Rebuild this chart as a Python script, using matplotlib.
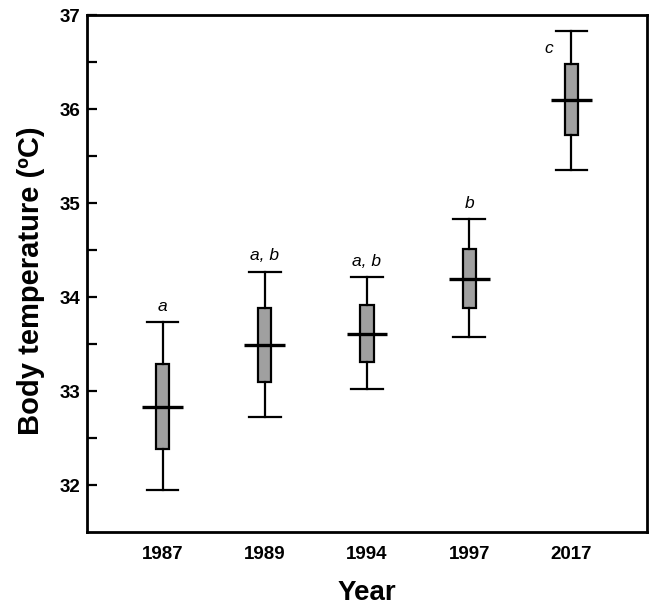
import matplotlib
matplotlib.use("Agg")
import matplotlib.pyplot as plt

years = ["1987", "1989", "1994", "1997", "2017"]
whisker_low = [31.95, 32.72, 33.02, 33.57, 35.35]
q1 = [32.38, 33.10, 33.31, 33.88, 35.72]
median = [32.83, 33.49, 33.61, 34.19, 36.10]
q3 = [33.29, 33.88, 33.91, 34.51, 36.48]
whisker_high = [33.73, 34.27, 34.21, 34.83, 36.83]
letters = ["a", "a, b", "a, b", "b", "c"]

plt.rcParams['font.family'] = ['Liberation Sans', 'DejaVu Sans']

fig = plt.figure(figsize=(6.5, 6.06), dpi=100)
ax = fig.add_axes([0.1338, 0.1221, 0.9954 - 0.1338, 0.9752 - 0.1221])

positions = list(range(len(years)))
stats = []
for i in positions:
    stats.append(dict(med=median[i], q1=q1[i], q3=q3[i],
                      whislo=whisker_low[i], whishi=whisker_high[i],
                      fliers=[], label=years[i]))

ax.bxp(stats, positions=positions, widths=0.13, capwidths=0.31,
       patch_artist=True, showfliers=False,
       boxprops=dict(facecolor='#a0a0a0', edgecolor='black', linewidth=1.6),
       whiskerprops=dict(color='black', linewidth=1.6),
       capprops=dict(color='black', linewidth=1.6),
       medianprops=dict(linewidth=0))

ax.hlines(median, [p - 0.2 for p in positions], [p + 0.2 for p in positions],
          colors='black', linewidth=2.4, zorder=5)

for i in positions:
    if letters[i] == "c":
        ax.annotate(letters[i], (positions[i], whisker_high[i]),
                    xytext=(-16, -12.5), textcoords='offset points',
                    ha='center', va='center', fontsize=12.5, style='italic')
    else:
        ax.annotate(letters[i], (positions[i], whisker_high[i]),
                    xytext=(0, 11.5), textcoords='offset points',
                    ha='center', va='center', fontsize=12.5, style='italic')

ax.set_xlim(-0.74, 4.74)
ax.set_ylim(31.5, 37)
ax.set_yticks([32, 33, 34, 35, 36, 37])
ax.set_yticks([32.5, 33.5, 34.5, 35.5, 36.5], minor=True)
ax.set_xticks(positions)
ax.set_xticklabels(years)

ax.tick_params(axis='y', which='major', direction='in', length=7, width=1.6,
               labelsize=13.5, pad=5)
ax.tick_params(axis='y', which='minor', direction='in', length=7, width=1.6)
ax.tick_params(axis='x', which='both', length=0, labelsize=13.5, pad=10)
for lab in ax.get_xticklabels() + ax.get_yticklabels():
    lab.set_fontweight('bold')

for s in ax.spines.values():
    s.set_linewidth(2.0)

ax.set_ylabel("Body temperature (ºC)", fontsize=21, fontweight='bold', labelpad=10)
ax.yaxis.label.set_y(0.487)
ax.set_xlabel("Year", fontsize=20, fontweight='bold', labelpad=12)

fig.savefig("out.png", dpi=100)
